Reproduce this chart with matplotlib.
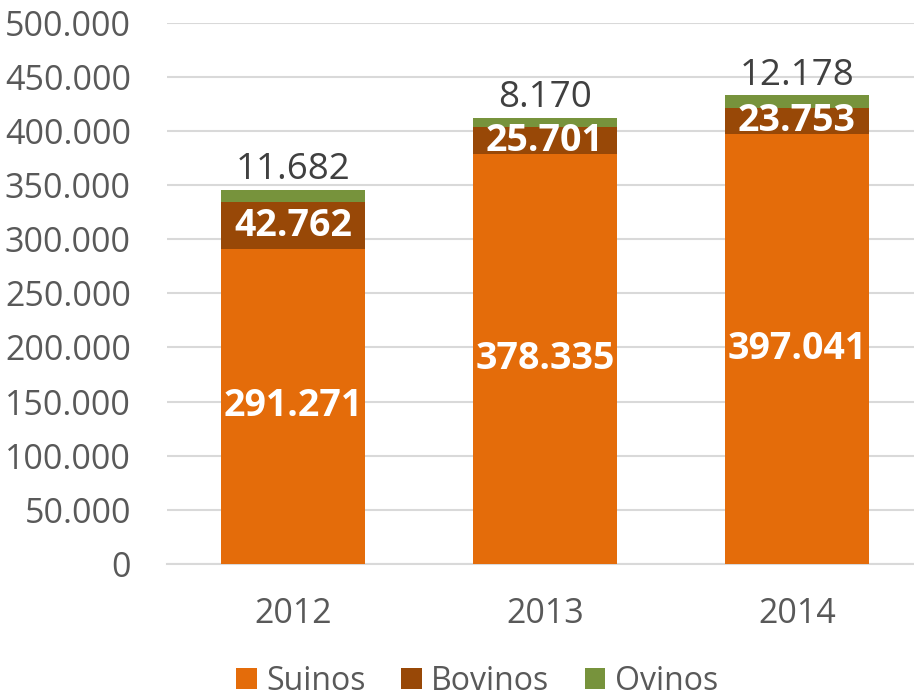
import matplotlib
matplotlib.use("Agg")
import matplotlib.pyplot as plt
import numpy as np
from matplotlib.ticker import FuncFormatter, MultipleLocator

plt.rcParams['font.family'] = ['Open Sans', 'DejaVu Sans']

years = ["2012", "2013", "2014"]
suinos = [291271, 378335, 397041]
bovinos = [42762, 25701, 23753]
ovinos = [11682, 8170, 12178]
series_names = ["Suinos", "Bovinos", "Ovinos"]
colors = ["#E46C0A", "#984807", "#77933C"]

def fmt(v):
    return f"{int(v):,}".replace(",", ".")

W, H = 914, 696
fig = plt.figure(figsize=(W / 100, H / 100), dpi=100)
ax = fig.add_axes([167 / W, (H - 564) / H, 756 / W, (564 - 22.7) / H])

x = np.arange(len(years))
bw = 0.571
b1 = ax.bar(x, suinos, bw, color=colors[0], label=series_names[0], zorder=3)
bottom2 = np.array(suinos)
b2 = ax.bar(x, bovinos, bw, bottom=bottom2, color=colors[1], label=series_names[1], zorder=3)
bottom3 = bottom2 + np.array(bovinos)
b3 = ax.bar(x, ovinos, bw, bottom=bottom3, color=colors[2], label=series_names[2], zorder=3)

for i in range(len(years)):
    ax.text(x[i], suinos[i] / 2, fmt(suinos[i]), ha='center', va='center',
            color='white', fontsize=27, fontweight='bold', zorder=4)
    ax.text(x[i], bottom2[i] + bovinos[i] / 2, fmt(bovinos[i]), ha='center', va='center',
            color='white', fontsize=27, fontweight='bold', zorder=4)
    ax.annotate(fmt(ovinos[i]), xy=(x[i], bottom3[i] + ovinos[i]), xytext=(0, 1),
                textcoords='offset points', ha='center', va='bottom',
                color='#404040', fontsize=26.5, zorder=4)

ax.set_xlim(-0.5, 2.5)
ax.set_ylim(0, 500000)
ax.yaxis.set_major_locator(MultipleLocator(50000))
ax.yaxis.set_major_formatter(FuncFormatter(lambda v, p: fmt(v)))
ax.set_xticks(x)
ax.set_xticklabels(years)
ax.tick_params(axis='both', length=0, labelsize=24.5, labelcolor='#595959')
ax.tick_params(axis='x', pad=24)
ax.tick_params(axis='y', pad=26)
ax.grid(axis='y', color='#D9D9D9', linewidth=1.5, zorder=0)
for s in ['top', 'right', 'left']:
    ax.spines[s].set_visible(False)
ax.spines['bottom'].set_color('#D9D9D9')
ax.spines['bottom'].set_linewidth(1.5)
ax.set_facecolor('none')

leg = fig.legend(handles=[b1, b2, b3], labels=series_names, loc='center',
                 bbox_to_anchor=(477 / W, 1 - 681 / H), ncol=3, frameon=False,
                 fontsize=23, handlelength=0.65, handleheight=0.65,
                 handletextpad=0.3, columnspacing=1.1)
for t in leg.get_texts():
    t.set_color('#595959')

fig.savefig("out.png", dpi=100)
